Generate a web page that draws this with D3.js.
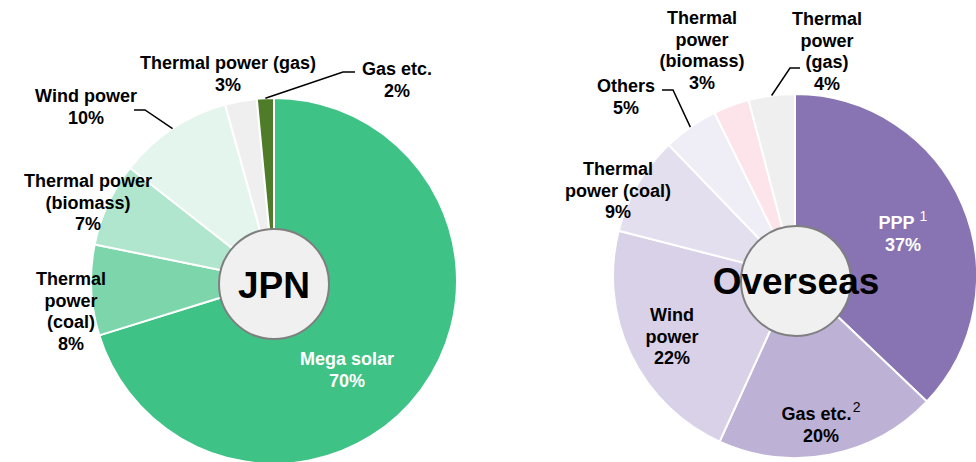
<!DOCTYPE html>
<html>
<head>
<meta charset="utf-8">
<script src="https://cdn.jsdelivr.net/npm/d3@7"></script>
<style>
    body { margin: 0; background: #fff; }
    svg { display: block; }
    text { font-family: "Liberation Sans", Arial, sans-serif; font-weight: bold; }
</style>
</head>
<body>
<div id="chart"></div>
<script>
// JPN share (pie values, labels show rounded %)
const jpnCategories = ["Mega solar", "Thermal power (coal)", "Thermal power (biomass)", "Wind power", "Thermal power (gas)", "Gas etc."]
const jpnValues = [70.2, 8.0, 7.4, 10.1, 2.8, 1.5]
const jpnPercentLabels = ["70%", "8%", "7%", "10%", "3%", "2%"]
const jpnColors = ["#3ec285", "#7dd6ab", "#b0e6cd", "#e3f5ec", "#efefef", "#4e7c28"]

// Overseas share
const ovsCategories = ["PPP", "Gas etc.", "Wind power", "Thermal power (coal)", "Others", "Thermal power (biomass)", "Thermal power (gas)"]
const ovsValues = [37.1, 19.7, 22.2, 8.8, 4.9, 3.2, 4.1]
const ovsPercentLabels = ["37%", "20%", "22%", "9%", "5%", "3%", "4%"]
const ovsColors = ["#8874b3", "#bdb1d6", "#d9d1e8", "#e4dfef", "#efedf5", "#fce4ea", "#efefef"]

// label layout: text lines (name part), anchor point, optional leader elbow
const jpnLayout = [
    { lines: ["Mega solar"], x: 347, y: 365, white: true },
    { lines: ["Thermal", "power", "(coal)"], x: 71, y: 285 },
    { lines: ["Thermal power", "(biomass)"], x: 88, y: 187 },
    { lines: ["Wind power"], x: 86, y: 102, elbow: [145, 110], end: [134, 110] },
    { lines: ["Thermal power (gas)"], x: 228, y: 69 },
    { lines: ["Gas etc."], x: 397, y: 75, elbow: [343, 72], end: [355, 72] }
]
const ovsLayout = [
    { lines: ["PPP"], x: 903, y: 229, white: true, sup: "1", supDx: 5 },
    { lines: ["Gas etc."], x: 821, y: 420, sup: "2", supDx: 1 },
    { lines: ["Wind", "power"], x: 672, y: 321 },
    { lines: ["Thermal", "power (coal)"], x: 618, y: 175 },
    { lines: ["Others"], x: 626, y: 92, elbow: [673, 90], end: [662, 90] },
    { lines: ["Thermal", "power", "(biomass)"], x: 702, y: 24 },
    { lines: ["Thermal", "power", "(gas)"], x: 827, y: 25, elbow: [790, 68], end: [800, 68] }
]

const width = 976, height = 462
const lineH = 21.5

const svg = d3.select("#chart").append("svg")
    .attr("width", width)
    .attr("height", height)

function drawPie(cfg) {
    let g = svg.append("g")
        .attr("transform", "translate(" + cfg.cx + "," + cfg.cy + ")")

    let pie = d3.pie().sort(null).value(d => d)
    let arcs = pie(cfg.values)

    let arc = d3.arc().innerRadius(0).outerRadius(cfg.r)
    let rimArc = d3.arc().innerRadius(cfg.r).outerRadius(cfg.r)

    // slices
    g.selectAll(".slice")
        .data(arcs)
        .enter().append("path")
        .attr("class", "slice")
        .attr("d", arc)
        .attr("fill", (d, i) => cfg.colors[i])
        .attr("stroke", "#fff")
        .attr("stroke-width", 2)

    // leader lines
    arcs.forEach((a, i) => {
        let lay = cfg.layout[i]
        if (!lay.elbow) return
        let p = rimArc.centroid(a)
        let pts = [[cfg.cx + p[0], cfg.cy + p[1]], lay.elbow, lay.end]
        svg.append("path")
            .attr("d", d3.line()(pts))
            .attr("fill", "none")
            .attr("stroke", "#000")
            .attr("stroke-width", 1.5)
    })

    // center circle
    svg.append("circle")
        .attr("cx", cfg.hx)
        .attr("cy", cfg.hy)
        .attr("r", cfg.hr)
        .attr("fill", "#f0f0f0")
        .attr("stroke", "#7f7f7f")
        .attr("stroke-width", 2)

    svg.append("text")
        .attr("x", cfg.hx)
        .attr("y", cfg.titleY)
        .attr("text-anchor", "middle")
        .attr("font-size", "37px")
        .attr("fill", "#000")
        .text(cfg.title)

    // slice labels
    cfg.layout.forEach((lay, i) => {
        let t = svg.append("text")
            .attr("text-anchor", "middle")
            .attr("font-size", "18px")
            .attr("fill", lay.white ? "#fff" : "#000")
        let lines = lay.lines.concat([cfg.percents[i]])
        lines.forEach((ln, j) => {
            t.append("tspan")
                .attr("x", lay.x)
                .attr("y", lay.y + j * lineH)
                .text(ln)
            if (j === 0 && lay.sup) {
                t.append("tspan")
                    .attr("dx", lay.supDx)
                    .attr("dy", -8)
                    .attr("font-size", "14px")
                    .attr("font-weight", "normal")
                    .text(lay.sup)
            }
        })
    })
}

drawPie({
    cx: 274, cy: 281, r: 183,
    hx: 274, hy: 284, hr: 55,
    title: "JPN", titleY: 298,
    values: jpnValues, colors: jpnColors,
    percents: jpnPercentLabels, layout: jpnLayout
})

drawPie({
    cx: 795, cy: 276, r: 182,
    hx: 796, hy: 281, hr: 55,
    title: "Overseas", titleY: 294,
    values: ovsValues, colors: ovsColors,
    percents: ovsPercentLabels, layout: ovsLayout
})
</script>
</body>
</html>
